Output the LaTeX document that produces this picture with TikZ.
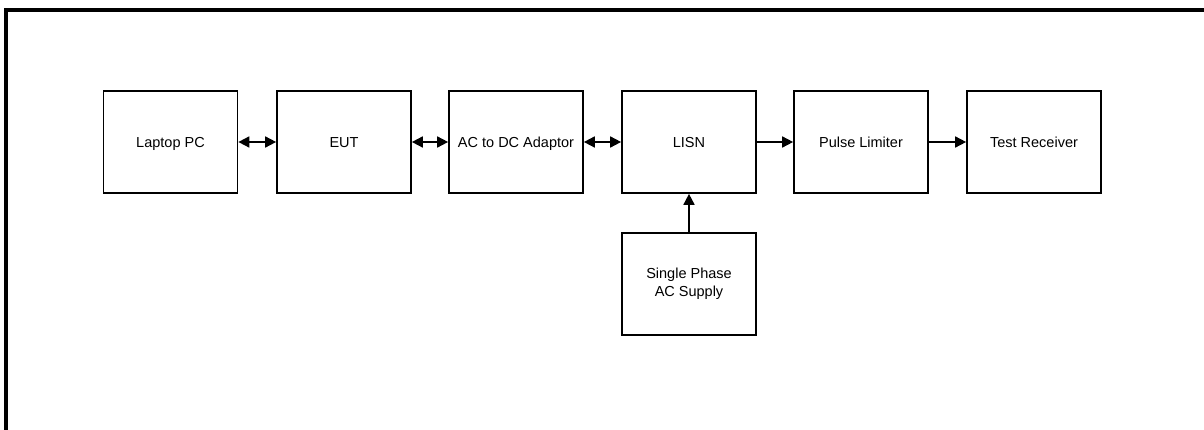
\documentclass[tikz,border=0pt]{standalone}
\usepackage{fontspec}
\setmainfont{Liberation Sans}
\usetikzlibrary{arrows.meta}
\begin{document}
\begin{tikzpicture}[x=1pt,y=-1pt,
  blk/.style={draw,line width=1.7pt,minimum width=134pt,minimum height=102pt,inner sep=0pt,align=center,font=\fontsize{14.5}{17.5}\selectfont},
  one/.style={text height=10.4pt,text depth=0pt},
  conn/.style={line width=1.7pt,-{Triangle[length=11pt,width=11pt]}},
  bconn/.style={line width=1.7pt,{Triangle[length=11pt,width=11pt]}-{Triangle[length=11pt,width=11pt]}}]
\useasboundingbox (0,0) rectangle (1204,430);
\clip (0,0) rectangle (1204,430);
\draw[line width=4pt] (5.6,440) -- (5.6,9.6) -- (1215,9.6);
\node[blk,one] (pc) at (170.5,142) {Laptop PC};
\node[blk,one] (eut) at (344,142) {EUT};
\node[blk,one] (acdc) at (516,142) {AC to DC Adaptor};
\node[blk,one] (lisn) at (689,142) {LISN};
\node[blk,one] (pl) at (861,142) {Pulse Limiter};
\node[blk,one] (tr) at (1034,142) {Test Receiver};
\node[blk] (sp) at (689,284) {Single Phase\\AC Supply};
\draw[bconn] (pc) -- (eut);
\draw[bconn] (eut) -- (acdc);
\draw[bconn] (acdc) -- (lisn);
\draw[conn] (lisn) -- (pl);
\draw[conn] (pl) -- (tr);
\draw[conn] (sp) -- (lisn);
\end{tikzpicture}
\end{document}
